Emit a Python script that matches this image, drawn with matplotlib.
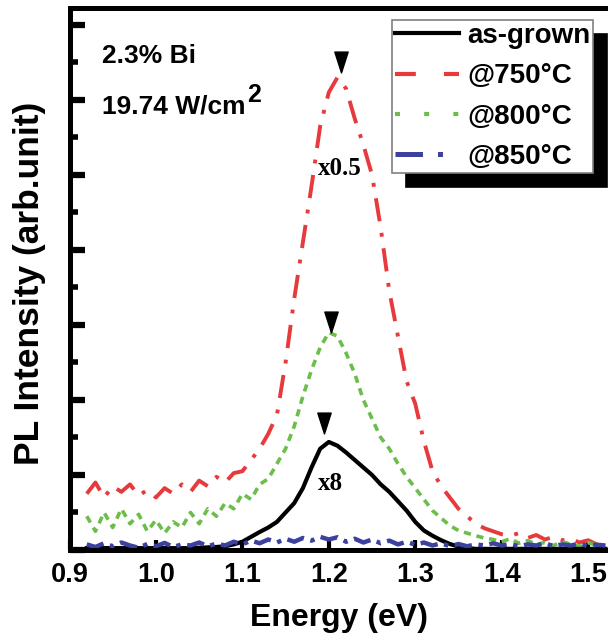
import matplotlib
matplotlib.use("Agg")
import matplotlib.pyplot as plt
import numpy as np
from matplotlib.lines import Line2D
from matplotlib.path import Path

# energy grid (eV), 0.92 ... 1.52
energy = np.linspace(0.92, 1.52, 61)

# PL intensity (arb. units, as plotted)
as_grown_x8 = [0.05, 0.05, 0.05, 0.05, 0.05, 0.05, 0.05, 0.05, 0.05, 0.05,
               0.05, 0.05, 0.05, 0.06, 0.07, 0.08, 0.10, 0.15, 0.22, 0.35,
               0.48, 0.60, 0.75, 1.00, 1.25, 1.65, 2.20, 2.70, 2.88, 2.78,
               2.60, 2.40, 2.20, 2.00, 1.75, 1.55, 1.30, 1.05, 0.75, 0.52,
               0.38, 0.26, 0.16, 0.09, 0.05, 0.03, 0.03, 0.03, 0.03, 0.03,
               0.03, 0.03, 0.03, 0.03, 0.03, 0.03, 0.03, 0.03, 0.03, 0.03,
               0.03]
t750_x05 = [1.50, 1.80, 1.40, 1.70, 1.55, 1.75, 1.45, 1.60, 1.40, 1.65,
            1.50, 1.75, 1.55, 1.85, 1.70, 1.95, 1.80, 2.05, 2.10, 2.40,
            2.70, 3.10, 3.60, 5.00, 6.70, 8.20, 9.70, 11.3, 12.2, 12.6,
            12.3, 11.5, 10.8, 10.0, 8.60, 6.90, 5.70, 4.50, 3.90, 2.90,
            2.10, 1.70, 1.40, 1.10, 0.90, 0.70, 0.58, 0.50, 0.42, 0.38,
            0.45, 0.32, 0.40, 0.28, 0.35, 0.26, 0.30, 0.20, 0.26, 0.15,
            0.12]
t800 = [0.90, 0.50, 1.00, 0.60, 1.10, 0.70, 0.95, 0.50, 0.80, 0.45,
        0.75, 0.60, 1.00, 0.70, 1.10, 0.90, 1.25, 1.10, 1.50, 1.35,
        1.75, 1.90, 2.30, 2.70, 3.30, 4.10, 4.80, 5.40, 5.80, 5.70,
        5.25, 4.70, 4.00, 3.50, 3.00, 2.70, 2.30, 1.95, 1.65, 1.35,
        1.05, 0.85, 0.65, 0.52, 0.45, 0.38, 0.32, 0.28, 0.22, 0.30,
        0.18, 0.25, 0.15, 0.20, 0.12, 0.22, 0.15, 0.10, 0.20, 0.12,
        0.10]
t850 = [0.15, 0.08, 0.18, 0.10, 0.20, 0.12, 0.06, 0.16, 0.10, 0.19,
        0.08, 0.15, 0.12, 0.20, 0.10, 0.17, 0.12, 0.22, 0.15, 0.25,
        0.18, 0.28, 0.20, 0.30, 0.22, 0.32, 0.25, 0.35, 0.28, 0.34,
        0.22, 0.30, 0.20, 0.28, 0.18, 0.25, 0.15, 0.22, 0.14, 0.20,
        0.12, 0.18, 0.10, 0.16, 0.10, 0.15, 0.12, 0.18, 0.12, 0.16,
        0.10, 0.15, 0.12, 0.18, 0.10, 0.15, 0.12, 0.17, 0.10, 0.14,
        0.12]

# peak markers (750, 800, as-grown)
peak_x = [1.214, 1.203, 1.194]
peak_y = [13.0, 6.08, 3.39]

labels = ["as-grown", "@750°C", "@800°C", "@850°C"]
colors = ["black", "#e63a3c", "#6cbd4c", "#3c409e"]

plt.rcParams["font.family"] = ["Liberation Sans", "DejaVu Sans"]
plt.rcParams["font.weight"] = "bold"

W, H = 608, 637
fig = plt.figure(figsize=(W / 100, H / 100), dpi=100)
ax = fig.add_axes([69.5 / W, 1 - 550 / H, 1 - 69.5 / W, (550 - 8) / H])

ax.plot(energy, t750_x05, color=colors[1], lw=2.8, dashes=(6, 3, 1, 3))
ax.plot(energy, t800, color=colors[2], lw=2.6, dashes=(2, 1.6))
ax.plot(energy, as_grown_x8, color=colors[0], lw=3.0, solid_joinstyle="round")
ax.plot(energy, t850, color=colors[3], lw=3.2, dashes=(4, 1.5, 1, 1.5))

tri = Path([(-0.32, 0.5), (0.32, 0.5), (0.0, -0.5), (-0.32, 0.5)],
           [Path.MOVETO, Path.LINETO, Path.LINETO, Path.CLOSEPOLY])
ax.plot(peak_x, peak_y, ls="none", marker=tri, ms=15, color="black", zorder=5)

ax.text(1.213, 10.0, "x0.5", family="Liberation Serif", fontsize=18,
        fontweight="bold", ha="center", va="baseline")
ax.text(1.202, 1.6, "x8", family="Liberation Serif", fontsize=18,
        fontweight="bold", ha="center", va="baseline")

fig.text(102 / W, 1 - 63 / H, "2.3% Bi", fontsize=19, va="baseline")
t = fig.text(102 / W, 1 - 113 / H, "19.74 W/cm", fontsize=19, va="baseline")
ax.annotate("2", xy=(1.0, 1.0), xycoords=t, xytext=(1, 8),
            textcoords="offset points", fontsize=18, ha="left", va="top")

ax.set_xlim(0.9, 1.523)
ax.set_ylim(0, 14.45)
ax.set_xticks([0.9, 1.0, 1.1, 1.2, 1.3, 1.4, 1.5])
ax.set_xticklabels(["0.9", "1.0", "1.1", "1.2", "1.3", "1.4", "1.5"])
ax.set_yticks(range(0, 15, 2))
ax.set_yticks(range(1, 15, 2), minor=True)
ax.tick_params(axis="y", which="major", direction="in", length=11, width=4.5,
               labelleft=False)
ax.tick_params(axis="y", which="minor", direction="in", length=6, width=4)
ax.tick_params(axis="x", which="major", direction="in", length=7, width=3,
               labelsize=19.5, pad=9)
for side in ["left", "bottom", "top"]:
    ax.spines[side].set_linewidth(3.6)
ax.spines["right"].set_visible(False)

ax.set_xlabel("Energy (eV)", fontsize=23, fontweight="bold", va="top")
ax.xaxis.set_label_coords(0.5, -0.098)
ax.set_ylabel("PL Intensity (arb.unit)", fontsize=25.5, fontweight="bold")
ax.yaxis.set_label_coords(-0.044, 0.492)

handles = [
    Line2D([], [], color=colors[0], lw=3.0),
    Line2D([], [], color=colors[1], lw=3.0, dashes=(5, 6.75)),
    Line2D([], [], color=colors[2], lw=3.0, dashes=(1.2, 5.8)),
    Line2D([], [], color=colors[3], lw=3.6, dashes=(5.5, 3, 1, 4, 1, 4)),
]
leg = ax.legend(handles, labels, loc="upper left",
                bbox_to_anchor=(392 / W, 1 - 20 / H),
                bbox_transform=fig.transFigure, borderaxespad=0,
                borderpad=0.1, fontsize=20, handlelength=2.3,
                handletextpad=0.3, labelspacing=0.52, fancybox=False,
                framealpha=1, edgecolor="#808080",
                shadow={"ox": 10, "oy": -10, "facecolor": "black",
                        "edgecolor": "black", "alpha": 1})
leg.get_frame().set_linewidth(1.2)

fig.savefig("out.png", dpi=100)
